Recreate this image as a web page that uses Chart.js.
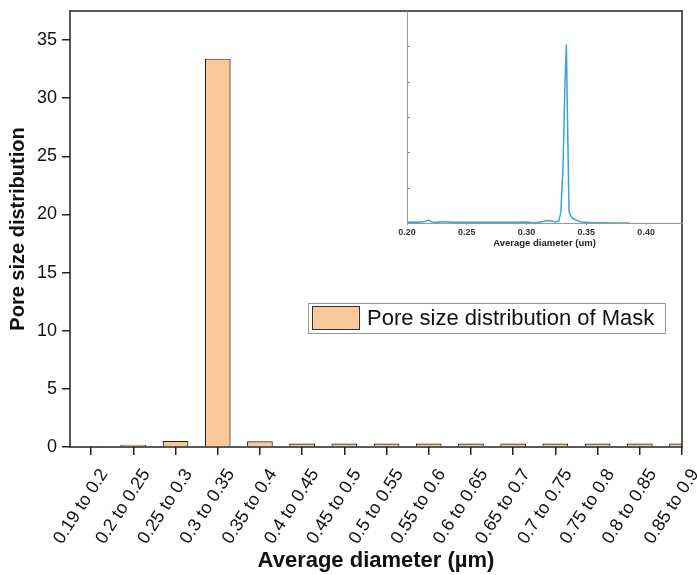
<!DOCTYPE html>
<html>
<head>
<meta charset="utf-8">
<script src="https://cdn.jsdelivr.net/npm/chart.js@4.4.1/dist/chart.umd.min.js"></script>
<style>
  html, body { margin: 0; padding: 0; background: #fff; }
  #wrap { position: relative; width: 697px; height: 575px; }
  #main { position: absolute; left: 0; top: 0; }
  #inset { position: absolute; left: 390px; top: 0; }
</style>
</head>
<body>
<div id="wrap">
  <canvas id="main" width="697" height="575"></canvas>
  <canvas id="inset" width="300" height="252"></canvas>
</div>
<script>
// main histogram
const categories = ['0.19 to 0.2', '0.2 to 0.25', '0.25 to 0.3', '0.3 to 0.35', '0.35 to 0.4',
  '0.4 to 0.45', '0.45 to 0.5', '0.5 to 0.55', '0.55 to 0.6', '0.6 to 0.65', '0.65 to 0.7',
  '0.7 to 0.75', '0.75 to 0.8', '0.8 to 0.85', '0.85 to 0.9'];
const distribution = [0.05, 0.2, 0.52, 33.4, 0.5, 0.3, 0.3, 0.3, 0.3, 0.3, 0.3, 0.3, 0.3, 0.3, 0.3];
const yTicks = [0, 5, 10, 15, 20, 25, 30, 35];

// inset curve
const insetDiameter = [0.200, 0.205, 0.210, 0.215, 0.218, 0.221, 0.225, 0.230, 0.235, 0.240,
  0.250, 0.260, 0.270, 0.280, 0.290, 0.300, 0.305, 0.310, 0.315, 0.319, 0.324, 0.327,
  0.3287, 0.3305, 0.3320, 0.3333, 0.3345, 0.3355, 0.3365, 0.338, 0.340,
  0.343, 0.346, 0.350, 0.355, 0.360, 0.365, 0.370, 0.380, 0.386];
const insetSignal = [0.02, 0.03, 0.02, 0.04, 0.08, 0.03, 0.02, 0.04, 0.03, 0.02,
  0.02, 0.02, 0.02, 0.02, 0.02, 0.03, 0.01, 0.02, 0.05, 0.07, 0.03, 0.06,
  0.3, 1.6, 3.8, 5.05, 2.4, 0.35, 0.22, 0.15, 0.1,
  0.06, 0.03, 0.02, 0.01, 0.01, 0.01, 0.0, 0.0, 0.0];
const insetXTicks = [0.20, 0.25, 0.30, 0.35, 0.40];
const insetYTicks = [1, 2, 3, 4, 5];

Chart.defaults.font.family = "'Liberation Sans', Arial, sans-serif";

const framePlugin = {
  id: 'frame',
  afterDatasetsDraw(chart) {
    const { ctx, chartArea: a } = chart;
    ctx.save();
    ctx.strokeStyle = '#222';
    ctx.lineWidth = 1.5;
    ctx.strokeRect(a.left, a.top, a.right - a.left, a.bottom - a.top);
    ctx.restore();
  }
};

const legendBox = {
  id: 'legendBox',
  afterDraw(chart) {
    const ds = chart.data.datasets[0];
    const ctx = chart.ctx;
    ctx.save();
    ctx.fillStyle = '#fff';
    ctx.fillRect(308, 303, 357, 30);
    ctx.strokeStyle = '#999';
    ctx.lineWidth = 1;
    ctx.strokeRect(308.5, 303.5, 357, 30);
    ctx.fillStyle = ds.backgroundColor;
    ctx.fillRect(312, 306, 48, 24);
    ctx.strokeStyle = '#333';
    ctx.strokeRect(312.5, 306.5, 47, 23);
    ctx.fillStyle = '#111';
    ctx.font = "22px 'Liberation Sans', Arial, sans-serif";
    ctx.textBaseline = 'middle';
    ctx.fillText(ds.label, 367, 319);
    ctx.restore();
  }
};

new Chart(document.getElementById('main'), {
  type: 'bar',
  data: {
    datasets: [{
      label: 'Pore size distribution of Mask',
      data: distribution.map((v, i) => ({ x: i, y: v })),
      backgroundColor: '#fdc899',
      borderColor: '#222',
      borderWidth: 1.2,
      barPercentage: 0.61,
      categoryPercentage: 1,
      clip: 0
    }]
  },
  options: {
    responsive: false,
    animation: false,
    layout: { padding: { top: 11, right: 15, left: 0, bottom: 0 } },
    plugins: { legend: { display: false }, tooltip: { enabled: false } },
    scales: {
      x: {
        type: 'linear',
        offset: false,
        min: -0.5,
        max: categories.length - 1,
        afterBuildTicks: s => { s.ticks = categories.map((_, i) => ({ value: i })); },
        ticks: {
          callback: v => categories[v],
          autoSkip: false,
          minRotation: 57,
          maxRotation: 57,
          font: { size: 18 },
          color: '#111',
          padding: 10,
          labelOffset: 13
        },
        grid: { offset: false, drawOnChartArea: false, tickLength: 8, tickColor: '#222', lineWidth: 1.5 },
        border: { display: false },
        title: {
          display: true,
          text: 'Average diameter (µm)',
          font: { size: 22, weight: 'bold' },
          color: '#111',
          padding: { top: 0, bottom: 1 }
        },
        afterFit: s => { s.height = 128; s.paddingLeft = 0; s.paddingRight = 0; }
      },
      y: {
        min: 0,
        max: 37.5,
        afterBuildTicks: s => { s.ticks = yTicks.map(v => ({ value: v })); },
        ticks: { font: { size: 18 }, color: '#111', padding: 5 },
        grid: { drawOnChartArea: false, tickLength: 8, tickColor: '#222', lineWidth: 1.5 },
        border: { display: false },
        title: {
          display: true,
          text: 'Pore size distribution',
          font: { size: 20, weight: 'bold' },
          color: '#111',
          padding: { top: 6, bottom: 0 }
        },
        afterFit: s => { s.width = 70; s.paddingTop = 0; s.paddingBottom = 0; }
      }
    }
  },
  plugins: [framePlugin, legendBox]
});

const inwardTicks = {
  id: 'inwardTicks',
  afterDraw(chart) {
    const { ctx, chartArea: a, scales } = chart;
    ctx.save();
    ctx.strokeStyle = '#888';
    ctx.lineWidth = 1;
    insetYTicks.forEach(v => {
      const y = Math.round(scales.y.getPixelForValue(v)) + 0.5;
      ctx.beginPath();
      ctx.moveTo(a.left, y);
      ctx.lineTo(a.left + 3, y);
      ctx.stroke();
    });
    ctx.restore();
  }
};

new Chart(document.getElementById('inset'), {
  type: 'line',
  data: {
    datasets: [{
      data: insetDiameter.map((x, i) => ({ x: x, y: insetSignal[i] })),
      borderColor: '#3ba3dc',
      borderWidth: 1.5,
      pointRadius: 0,
      tension: 0
    }]
  },
  options: {
    responsive: false,
    animation: false,
    layout: { padding: { top: 11, right: 8, left: 0, bottom: 0 } },
    plugins: { legend: { display: false }, tooltip: { enabled: false } },
    scales: {
      x: {
        type: 'linear',
        min: 0.2,
        max: 0.43,
        afterBuildTicks: s => { s.ticks = insetXTicks.map(v => ({ value: v })); },
        ticks: {
          font: { size: 9, weight: 'bold' },
          color: '#333',
          padding: 2,
          maxRotation: 0,
          callback: v => v.toFixed(2)
        },
        grid: { drawOnChartArea: false, tickLength: 2, tickColor: '#999' },
        border: { color: '#999', width: 1 },
        title: {
          display: true,
          text: 'Average diameter (um)',
          font: { size: 9.5, weight: 'bold' },
          color: '#222',
          padding: { top: 0, bottom: 3 }
        },
        afterFit: s => { s.height = 29; s.paddingRight = 0; }
      },
      y: {
        min: 0,
        max: 6,
        ticks: { display: false },
        grid: { drawOnChartArea: false, drawTicks: false },
        border: { color: '#999', width: 1 },
        afterFit: s => { s.width = 17; s.paddingTop = 0; }
      }
    }
  },
  plugins: [inwardTicks]
});
</script>
</body>
</html>
